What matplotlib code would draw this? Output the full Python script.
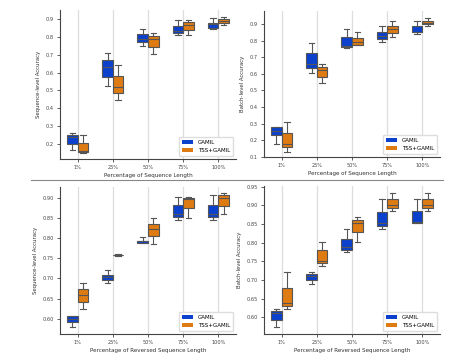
import matplotlib
matplotlib.use('Agg')
import matplotlib.pyplot as plt
from matplotlib.lines import Line2D
from matplotlib.patches import Patch

cats = ['1%', '25%', '50%', '75%', '100%']
methods = ['GAMIL', 'TSS+GAMIL']
colors = ['#0b41cd', '#de7b12']

# box stats per panel: [whislo, q1, med, q3, whishi] for each category
seq_gamil = [[0.164, 0.202, 0.239, 0.249, 0.262], [0.525, 0.577, 0.633, 0.671, 0.709],
             [0.746, 0.769, 0.787, 0.816, 0.846], [0.810, 0.819, 0.831, 0.859, 0.892],
             [0.844, 0.849, 0.874, 0.877, 0.906]]
seq_tss = [[0.151, 0.155, 0.160, 0.205, 0.252], [0.446, 0.483, 0.521, 0.581, 0.643],
           [0.705, 0.742, 0.787, 0.802, 0.821], [0.812, 0.836, 0.868, 0.881, 0.892],
           [0.864, 0.877, 0.891, 0.902, 0.909]]
batch_gamil = [[0.180, 0.234, 0.255, 0.278, 0.278], [0.608, 0.634, 0.660, 0.724, 0.788],
               [0.754, 0.764, 0.770, 0.824, 0.872], [0.790, 0.810, 0.828, 0.850, 0.890],
               [0.840, 0.850, 0.850, 0.890, 0.920]]
batch_tss = [[0.130, 0.160, 0.178, 0.244, 0.312], [0.544, 0.584, 0.624, 0.640, 0.658],
             [0.774, 0.774, 0.794, 0.814, 0.854], [0.824, 0.844, 0.870, 0.890, 0.920],
             [0.888, 0.898, 0.908, 0.920, 0.938]]
rseq_gamil = [[0.579, 0.591, 0.600, 0.606, 0.607], [0.689, 0.695, 0.703, 0.708, 0.720],
              [0.787, 0.787, 0.792, 0.794, 0.802], [0.844, 0.852, 0.861, 0.882, 0.903],
              [0.844, 0.853, 0.861, 0.883, 0.908]]
rseq_tss = [[0.624, 0.642, 0.660, 0.674, 0.689], [0.755, 0.757, 0.758, 0.759, 0.760],
            [0.785, 0.805, 0.822, 0.836, 0.850], [0.850, 0.874, 0.897, 0.900, 0.903],
            [0.861, 0.881, 0.900, 0.906, 0.911]]
rbatch_gamil = [[0.573, 0.592, 0.611, 0.616, 0.621], [0.688, 0.699, 0.710, 0.715, 0.720],
                [0.774, 0.781, 0.789, 0.810, 0.836], [0.837, 0.845, 0.854, 0.883, 0.917],
                [0.852, 0.854, 0.855, 0.885, 0.917]]
rbatch_tss = [[0.622, 0.629, 0.637, 0.679, 0.720], [0.737, 0.745, 0.752, 0.779, 0.803],
              [0.803, 0.828, 0.854, 0.861, 0.868], [0.886, 0.894, 0.901, 0.917, 0.934],
              [0.886, 0.894, 0.901, 0.917, 0.934]]

plt.rcParams.update({'font.family': 'DejaVu Sans', 'font.size': 4})

fig = plt.figure(figsize=(4.67, 3.62), dpi=100)
W, H = 467, 362


def px_axes(l, r, b, t):
    return fig.add_axes([l / W, 1 - b / H, (r - l) / W, (b - t) / H])


panels = [
    (px_axes(60, 236, 159, 10), seq_gamil, seq_tss, (0.116, 0.95),
     [0.2, 0.3, 0.4, 0.5, 0.6, 0.7, 0.8, 0.9], '%.1f',
     'Sequence-level Accuracy', 'Percentage of Sequence Length'),
    (px_axes(264, 440, 157, 11), batch_gamil, batch_tss, (0.1, 0.978),
     [0.1, 0.2, 0.3, 0.4, 0.5, 0.6, 0.7, 0.8, 0.9], '%.1f',
     'Batch-level Accuracy', 'Percentage of Sequence Length'),
    (px_axes(60, 236, 334, 187), rseq_gamil, rseq_tss, (0.562, 0.927),
     [0.60, 0.65, 0.70, 0.75, 0.80, 0.85, 0.90], '%.2f',
     'Sequence-level Accuracy', 'Percentage of Reversed Sequence Length'),
    (px_axes(264, 440, 334, 186), rbatch_gamil, rbatch_tss, (0.555, 0.952),
     [0.60, 0.65, 0.70, 0.75, 0.80, 0.85, 0.90, 0.95], '%.2f',
     'Batch-level Accuracy', 'Percentage of Reversed Sequence Length'),
]

line_col = '#555555'
for ax, g_data, t_data, ylim, yt, fmt, ylab, xlab in panels:
    for k, (data, col) in enumerate(zip([g_data, t_data], colors)):
        stats = [dict(whislo=d[0], q1=d[1], med=d[2], q3=d[3], whishi=d[4], fliers=[])
                 for d in data]
        pos = [i - 0.15 + 0.3 * k for i in range(len(cats))]
        ax.bxp(stats, positions=pos, widths=0.3, capwidths=0.15, patch_artist=True,
               showfliers=False, manage_ticks=False,
               boxprops=dict(facecolor=col, edgecolor=line_col, linewidth=0.8),
               medianprops=dict(color=line_col, linewidth=0.8),
               whiskerprops=dict(color=line_col, linewidth=0.8),
               capprops=dict(color=line_col, linewidth=0.8), zorder=3)
    ax.set_xlim(-0.5, len(cats) - 0.5)
    ax.set_ylim(*ylim)
    ax.set_xticks(range(len(cats)))
    ax.set_xticklabels(cats)
    ax.set_yticks(yt)
    ax.set_yticklabels([fmt % v for v in yt])
    ax.grid(axis='x', color='#dddddd', linewidth=0.9, zorder=0)
    ax.set_axisbelow(True)
    for s in ['top', 'right']:
        ax.spines[s].set_visible(False)
    for s in ['left', 'bottom']:
        ax.spines[s].set_color('#444444')
        ax.spines[s].set_linewidth(0.8)
    ax.tick_params(colors='#444444', labelsize=3.6, length=2.5, width=0.6, pad=2)
    ax.set_ylabel(ylab, fontsize=3.9, color='#333333', labelpad=3)
    ax.set_xlabel(xlab, fontsize=4.1, color='#333333', labelpad=2)
    handles = [Patch(facecolor=c, edgecolor='none') for c in colors]
    ax.legend(handles, methods, loc='lower right', fontsize=4, frameon=True,
              framealpha=1, edgecolor='#dddddd', handlelength=2.0, handleheight=0.8,
              borderpad=0.6, labelspacing=0.5)

fig.add_artist(Line2D([31 / W, 443 / W], [1 - 180 / H, 1 - 180 / H],
                      color='#888888', linewidth=0.8))

fig.savefig('out.png', dpi=100)
